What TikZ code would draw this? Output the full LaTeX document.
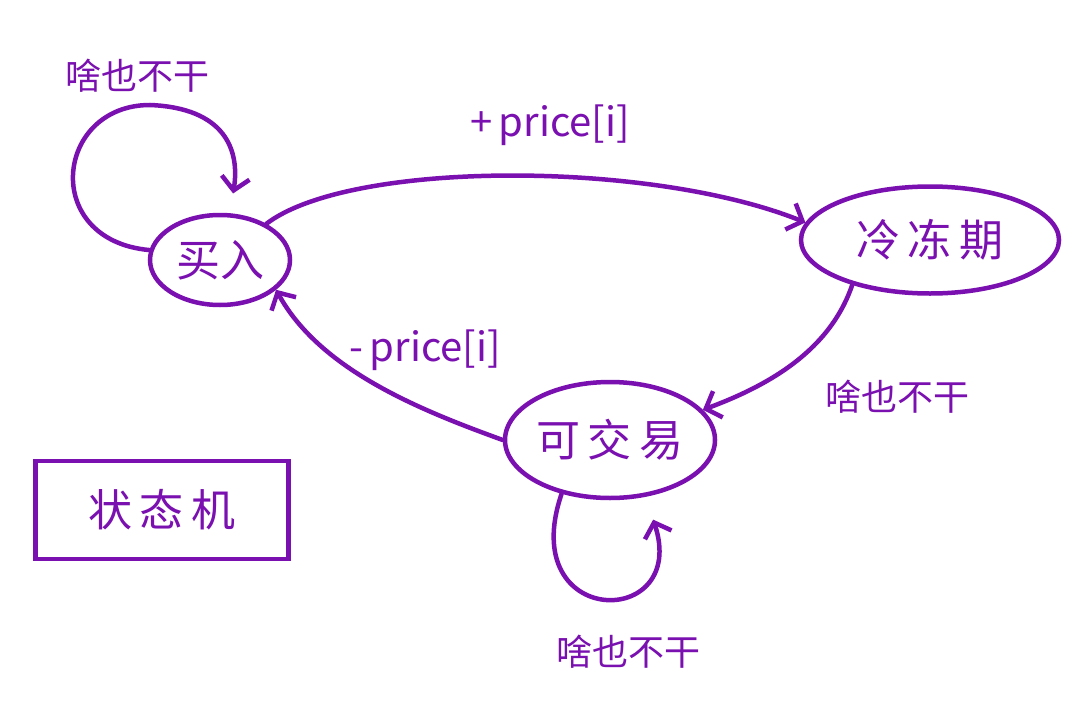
\documentclass[tikz,border=0pt]{standalone}
\usepackage{fontspec}
\newfontfamily\cjk{Noto Sans CJK SC}
\usetikzlibrary{shapes.geometric,arrows.meta}
\definecolor{pen}{RGB}{122,16,176}
\begin{document}
\begin{tikzpicture}[x=1pt,y=-1pt,line cap=round,
  state/.style={draw=pen, line width=4.5pt, ellipse, inner sep=0pt, text=pen, font=\cjk\fontsize{44}{50}\selectfont},
  lbl/.style={text=pen, font=\cjk\fontsize{36}{42}\selectfont},
  plbl/.style={text=pen, font=\cjk\fontsize{40}{46}\selectfont},
  edge/.style={draw=pen, line width=4.5pt, -{Straight Barb[length=13pt,width=28pt,line width=4.5pt]}}]
\useasboundingbox (0,0) rectangle (1075,706);
\fill[white] (0,0) rectangle (1075,706);
% states
\node[state, minimum width=140pt, minimum height=90pt] (buy) at (220,260) {买入};
\node[state, minimum width=258pt, minimum height=107pt] (cool) at (930,240) {冷\,冻\,期};
\node[state, minimum width=210pt, minimum height=116pt] (trade) at (610,440) {可\,交\,易};
\node[draw=pen, line width=4.5pt, rectangle, minimum width=253pt, minimum height=98pt, text=pen, font=\cjk\fontsize{44}{50}\selectfont] (sm) at (162,510) {状\,态\,机};
% labels
\node[lbl] (l1) at (137,76) {啥也不干};
\node[plbl] (l2) at (550,125) {+\,price[i]};
\node[plbl] (l3) at (425,350) {-\,price[i]};
\node[lbl] (l4) at (897,397) {啥也不干};
\node[lbl] (l5) at (628,652) {啥也不干};
% edges
\draw[edge, shorten >=20pt] (buy.172) .. controls (40,240) and (55,105) .. (150,105) .. controls (225,108) and (240,150) .. (buy.78);
\draw[edge] (buy.38) .. controls (350,160) and (650,160) .. (cool.172);
\draw[edge] (cool.210) .. controls (830,350) and (770,385) .. (trade.18);
\draw[edge] (trade.180) .. controls (420,410) and (320,370) .. (buy.332);
\draw[edge, shorten >=24pt] (trade.228) .. controls (515,630) and (690,630) .. (trade.302);
\end{tikzpicture}
\end{document}
